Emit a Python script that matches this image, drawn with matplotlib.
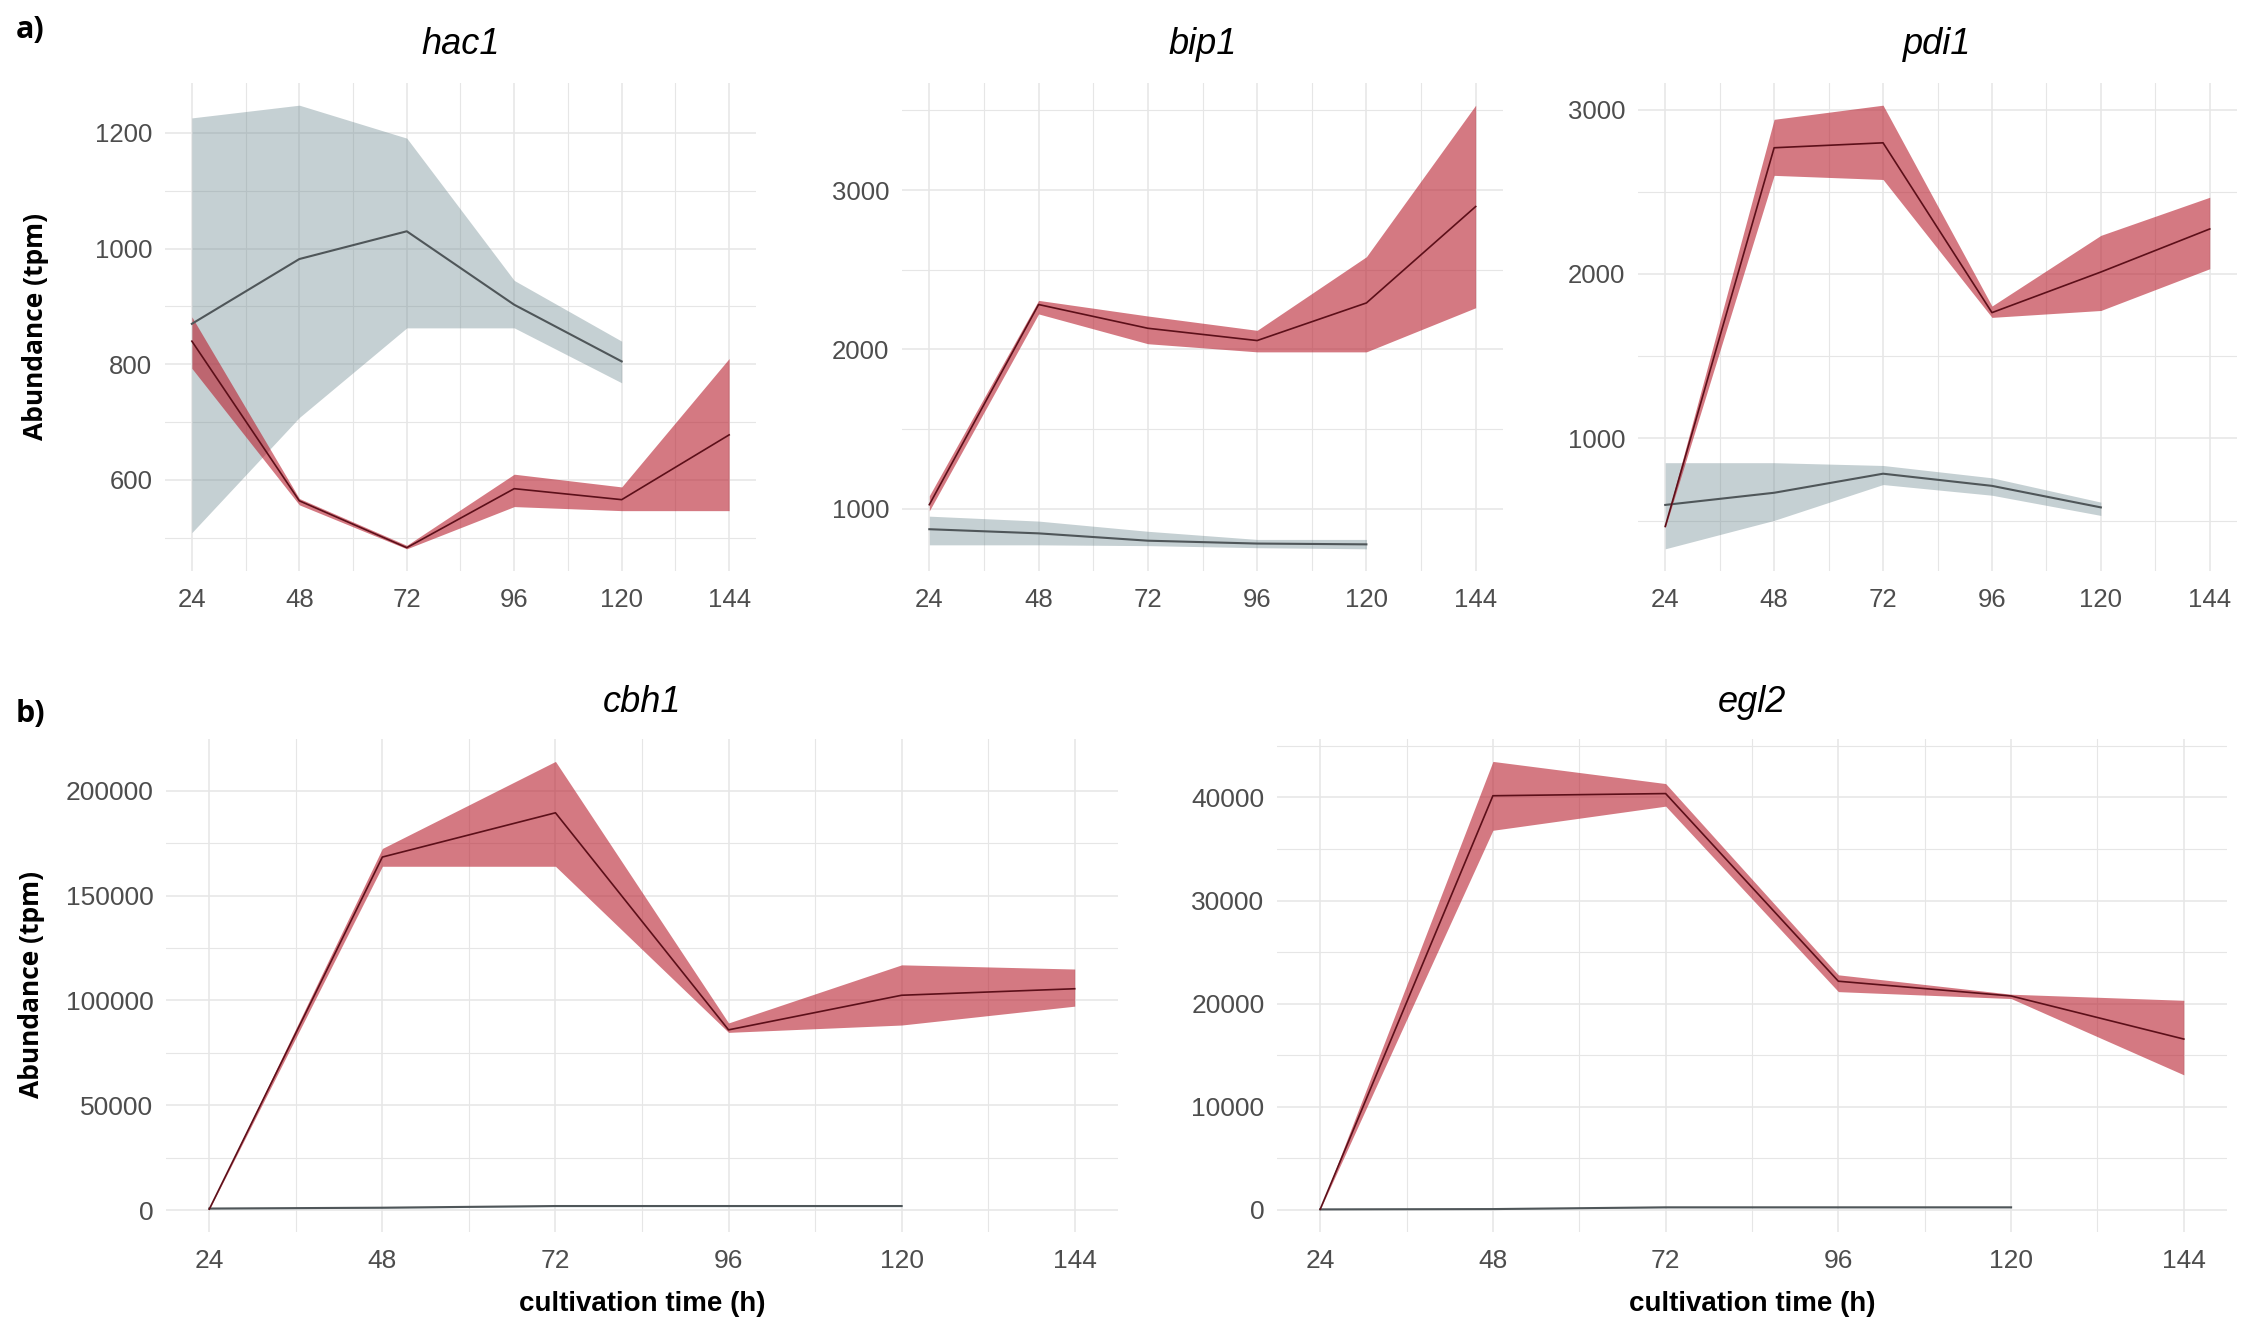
import matplotlib
matplotlib.use('Agg')
import matplotlib.pyplot as plt
from matplotlib.ticker import MultipleLocator

# sampling times (h)
times = [24, 48, 72, 96, 120, 144]
times_gray = times[:5]

# hac1
hac1_gray_mean = [870, 982, 1030, 903, 805]
hac1_gray_lo = [509, 708, 863, 863, 768]
hac1_gray_hi = [1226, 1248, 1191, 945, 840]
hac1_red_mean = [840, 564, 483, 585, 566, 678]
hac1_red_lo = [793, 557, 481, 554, 547, 547]
hac1_red_hi = [882, 568, 487, 610, 588, 810]

# bip1
bip1_gray_mean = [872, 846, 800, 782, 777]
bip1_gray_lo = [774, 774, 769, 756, 749]
bip1_gray_hi = [954, 923, 859, 808, 808]
bip1_red_mean = [1026, 2282, 2133, 2056, 2292, 2897]
bip1_red_lo = [987, 2223, 2036, 1985, 1985, 2262]
bip1_red_hi = [1082, 2308, 2210, 2120, 2582, 3533]

# pdi1
pdi1_gray_mean = [595, 669, 785, 711, 580]
pdi1_gray_lo = [328, 501, 719, 654, 531]
pdi1_gray_hi = [852, 852, 835, 760, 612]
pdi1_red_mean = [464, 2768, 2798, 1765, 2012, 2274]
pdi1_red_lo = [457, 2600, 2575, 1736, 1778, 2032]
pdi1_red_hi = [477, 2941, 3027, 1805, 2235, 2467]

# cbh1
cbh1_gray_mean = [800, 1200, 2000, 2000, 2000]
cbh1_gray_lo = [600, 900, 1700, 1700, 1700]
cbh1_gray_hi = [1000, 1500, 2300, 2300, 2300]
cbh1_red_mean = [500, 168400, 189500, 86000, 102500, 105600]
cbh1_red_lo = [300, 164000, 164000, 84800, 88300, 97300]
cbh1_red_hi = [700, 172500, 214000, 89300, 117000, 115000]

# egl2
egl2_gray_mean = [50, 80, 250, 250, 250]
egl2_gray_lo = [30, 50, 200, 200, 200]
egl2_gray_hi = [70, 110, 300, 300, 300]
egl2_red_mean = [60, 40170, 40380, 22180, 20750, 16570]
egl2_red_lo = [40, 36820, 39160, 21170, 20500, 13100]
egl2_red_hi = [80, 43500, 41350, 22800, 20920, 20330]

W, H = 2250, 1333
GRAY_FILL = '#6f8a91'
RED_FILL = '#b8202f'
GRAY_LINE = '#4f5659'
RED_LINE = '#5c0f19'
TICK_COL = '#4d4d4d'
GRID_COL = '#e6e6e6'

fig = plt.figure(figsize=(W / 100, H / 100), dpi=100)
fig.patch.set_facecolor('white')


def box(l, t, r, b):
    return [l / W, 1 - b / H, (r - l) / W, (b - t) / H]


def panel(rect, title, gray, red, ymaj, ymin, tick_size, title_y):
    ax = fig.add_axes(box(*rect))
    gm, glo, ghi = gray
    rm, rlo, rhi = red
    ax.fill_between(times_gray, glo, ghi, color=GRAY_FILL, alpha=0.4, lw=0, zorder=2)
    ax.fill_between(times, rlo, rhi, color=RED_FILL, alpha=0.6, lw=0, zorder=3)
    ax.plot(times_gray, gm, color=GRAY_LINE, lw=1.5, zorder=4)
    ax.plot(times, rm, color=RED_LINE, lw=1.2, zorder=5)
    ax.margins(x=0.05, y=0.05)
    ax.set_xticks(times)
    ax.xaxis.set_minor_locator(MultipleLocator(12))
    ax.yaxis.set_major_locator(MultipleLocator(ymaj))
    ax.yaxis.set_minor_locator(MultipleLocator(ymin))
    ax.grid(True, which='major', color=GRID_COL, lw=1.1, zorder=0)
    ax.grid(True, which='minor', color=GRID_COL, lw=0.8, zorder=0)
    ax.set_axisbelow(True)
    for s in ax.spines.values():
        s.set_visible(False)
    ax.tick_params(which='both', length=0, colors=TICK_COL, labelsize=tick_size)
    ax.tick_params(axis='x', pad=12)
    ax.tick_params(axis='y', pad=9)
    for lab in ax.get_xticklabels() + ax.get_yticklabels():
        lab.set_family('Liberation Sans')
    x0 = (rect[0] + rect[2]) / 2
    fig.text(x0 / W, 1 - title_y / H, title, ha='center', va='center',
             fontsize=26, style='italic', family='Liberation Sans', color='black')
    return ax


panel((165, 83, 756, 571), 'hac1',
      (hac1_gray_mean, hac1_gray_lo, hac1_gray_hi),
      (hac1_red_mean, hac1_red_lo, hac1_red_hi), 200, 100, 18.5, 44)
panel((902, 83, 1503, 571), 'bip1',
      (bip1_gray_mean, bip1_gray_lo, bip1_gray_hi),
      (bip1_red_mean, bip1_red_lo, bip1_red_hi), 1000, 500, 18.5, 44)
panel((1638, 83, 2237, 571), 'pdi1',
      (pdi1_gray_mean, pdi1_gray_lo, pdi1_gray_hi),
      (pdi1_red_mean, pdi1_red_lo, pdi1_red_hi), 1000, 500, 18.5, 44)
ax4 = panel((166, 739, 1118, 1232), 'cbh1',
            (cbh1_gray_mean, cbh1_gray_lo, cbh1_gray_hi),
            (cbh1_red_mean, cbh1_red_lo, cbh1_red_hi), 50000, 25000, 19, 703)
ax5 = panel((1277, 739, 2227, 1232), 'egl2',
            (egl2_gray_mean, egl2_gray_lo, egl2_gray_hi),
            (egl2_red_mean, egl2_red_lo, egl2_red_hi), 10000, 5000, 19, 703)

for ax in (ax4, ax5):
    ax.set_xlabel('cultivation time (h)', fontsize=20, fontweight='bold',
                  family='Liberation Sans', labelpad=13)

fig.text(36 / W, 1 - 327 / H, 'Abundance (tpm)', rotation=90, ha='center', va='center',
         fontsize=19, fontweight='bold', family='Open Sans')
fig.text(32 / W, 1 - 985 / H, 'Abundance (tpm)', rotation=90, ha='center', va='center',
         fontsize=19, fontweight='bold', family='Open Sans')
fig.text(16 / W, 1 - 30 / H, 'a)', ha='left', va='center', fontsize=22,
         fontweight='bold', family='Open Sans')
fig.text(16 / W, 1 - 714 / H, 'b)', ha='left', va='center', fontsize=22,
         fontweight='bold', family='Open Sans')

fig.savefig('out.png', dpi=100, facecolor='white')
